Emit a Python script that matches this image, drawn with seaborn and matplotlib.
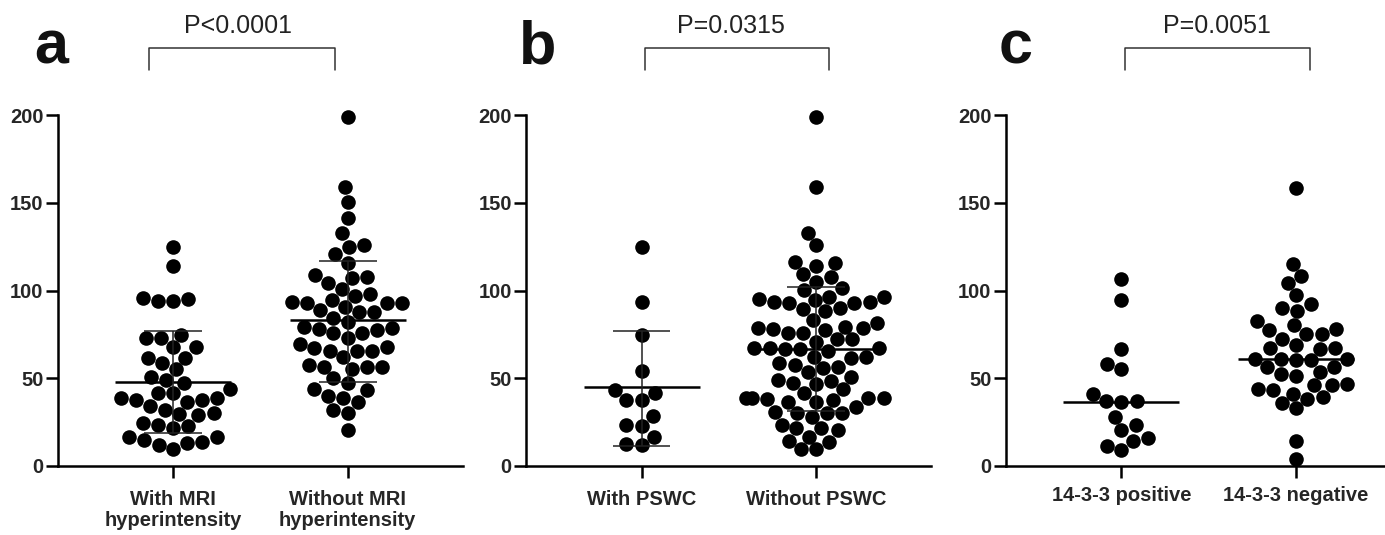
import matplotlib
matplotlib.use("Agg")
import matplotlib.pyplot as plt
import pandas as pd
import seaborn as sns

# a: MRI hyperintensity
mri_with = [125, 114, 96, 95, 94, 94, 74.6, 72.7, 72.7, 67.6, 67.6, 61.7, 61.7,
            58.5, 55.1, 50.9, 49, 47.5, 43.7, 41.8, 41.8, 38.9, 38.9, 37.6, 37.6,
            36.7, 34.2, 31.9, 29.4, 30, 29.1, 24.3, 23.4, 22.8, 21.8, 16.7, 16.7,
            14.8, 12.9, 13.9, 12, 9.5]
mri_without = [199, 158.8, 150.6, 141.1, 132.6, 125.9, 125, 120.8, 115.9, 106.9,
               107.9, 108.8, 104.5, 100.7, 98, 96.9, 94.6, 92.7, 93.6, 92.7, 92.7,
               90.8, 88.9, 87.9, 87.9, 84.1, 82.2, 78.4, 77.9, 79, 77.5, 76, 75.6,
               72.7, 69.5, 67.6, 67, 65.7, 65.7, 65.7, 61.9, 56.6, 56.6, 57.5, 55.1,
               56.6, 50, 47.1, 43.7, 43.3, 39.9, 38.9, 36.7, 31.9, 30.4, 20.5]
mri_labels = ["With MRI\nhyperintensity", "Without MRI\nhyperintensity"]
mri_center = [48, 83]
mri_low = [19, 48]
mri_high = [77, 117]
mri_p = "P<0.0001"

# b: PSWC
pswc_with = [125, 93.6, 74.6, 54.3, 43.3, 41.4, 37.6, 37.6, 28.5, 22.8, 23.4,
             16.7, 11.8, 12.5]
pswc_without = [199, 158.8, 133, 125.9, 116.4, 115.9, 113.9, 109.4, 107.9, 105,
                101.2, 100.3, 96.5, 96.1, 94.6, 93.6, 93.1, 94.9, 93.1, 93.6, 89.8,
                88.5, 89.3, 83.2, 81.7, 79.4, 77.9, 78.4, 78.4, 75.6, 75.6, 77.5,
                72.2, 72.2, 70.8, 67, 66.5, 67, 66.5, 67, 65.7, 62.3, 61.3, 62.3,
                57.5, 58.5, 56.6, 55.7, 53.8, 50.9, 49, 47.5, 48.6, 46.7, 43.7, 41.4,
                38.6, 38.6, 38.6, 37.6, 38, 38.6, 36.7, 36.7, 33.8, 30, 31, 30.4,
                28.1, 30, 21.5, 20.5, 23.4, 21.5, 16.7, 13.9, 14.4, 9.5, 9.5]
pswc_labels = ["With PSWC", "Without PSWC"]
pswc_center = [45, 66.5]
pswc_low = [11.5, 31.5]
pswc_high = [77, 102]
pswc_p = "P=0.0315"

# c: 14-3-3
prot_pos = [106.4, 94.4, 66.5, 58.3, 55.1, 41.2, 36.5, 36.8, 36.8, 27.9, 23.2,
            20.3, 15.9, 14.1, 11.2, 8.9]
prot_neg = [158.4, 115.3, 108.3, 104.3, 97.2, 92.1, 90, 88.3, 82.4, 80.2, 78.3,
            77.3, 75.4, 75.2, 72.6, 69.1, 67.2, 66.9, 67.2, 60.2, 61.2, 61.2, 61.2,
            60.2, 56.4, 56.4, 53.6, 52.6, 51.3, 46.9, 46, 46, 44.1, 43.1, 41.2, 39.3,
            38.4, 36.1, 33, 14.1, 4.2]
prot_labels = ["14-3-3 positive", "14-3-3 negative"]
prot_center = [36.6, 61.2]
prot_p = "P=0.0051"

sns.set_style("ticks")
plt.rcParams['font.family'] = ['Liberation Sans', 'DejaVu Sans']

fig = plt.figure(figsize=(13.85, 5.35), dpi=100)


def panel(left, groups, labels, center, low, high, ptext, br, tx, pad):
    ax = fig.add_axes([left, 0.129, 0.2924, 0.656])
    df = pd.DataFrame({
        "group": [labels[i] for i, g in enumerate(groups) for _ in g],
        "value": [v for g in groups for v in g],
    })
    sns.swarmplot(data=df, x="group", y="value", order=labels, ax=ax,
                  color="black", size=10.5, linewidth=0, zorder=2)
    for c in ax.collections:
        c.set_clip_on(False)
    for i in range(2):
        ax.hlines(center[i], i - 0.333, i + 0.333, color="black", lw=1.8, zorder=3)
        if high is not None:
            ax.vlines(i, low[i], high[i], color="#222222", lw=1.1, zorder=3)
            ax.hlines([low[i], high[i]], i - 0.165, i + 0.165,
                      color="#222222", lw=1.1, zorder=3)
    ax.set_xlim(-0.66, 1.66)
    ax.set_ylim(0, 200)
    ax.set_xlabel("")
    ax.set_ylabel("")
    ax.set_xticks([0, 1], labels, fontweight="bold", fontsize=14.5, linespacing=1.12)
    ax.set_yticks([0, 50, 100, 150, 200], ["0", "50", "100", "150", "200"],
                  fontweight="bold", fontsize=14.5)
    ax.tick_params(axis="both", length=8.5, width=1.8, color="black")
    ax.tick_params(axis="x", pad=pad)
    ax.tick_params(axis="y", pad=2)
    sns.despine(ax=ax)
    for s in ("left", "bottom"):
        ax.spines[s].set_linewidth(1.8)
        ax.spines[s].set_color("black")
    ax.plot([br[0], br[0], br[1], br[1]], [225.6, 238.2, 238.2, 225.6],
            color="#333333", lw=1.1, clip_on=False, solid_joinstyle="round")
    ax.text(tx, 246.7, ptext, ha="center", va="baseline", fontsize=18,
            color="#222222", clip_on=False)
    return ax


panel(0.0419, [mri_with, mri_without], mri_labels, mri_center, mri_low, mri_high,
      mri_p, (-0.138, 0.925), 0.37, 9)
panel(0.3801, [pswc_with, pswc_without], pswc_labels, pswc_center, pswc_low,
      pswc_high, pswc_p, (0.017, 1.075), 0.51, 9)
panel(0.7264, [prot_pos, prot_neg], prot_labels, prot_center, None, None,
      prot_p, (0.023, 1.08), 0.55, 6)

for x, letter in [(0.0368, "a"), (0.388, "b"), (0.733, "c")]:
    fig.text(x, 0.882, letter, ha="center", va="baseline", fontsize=44,
             fontweight="bold", color="#111111")

fig.savefig("out.png", dpi=100)
